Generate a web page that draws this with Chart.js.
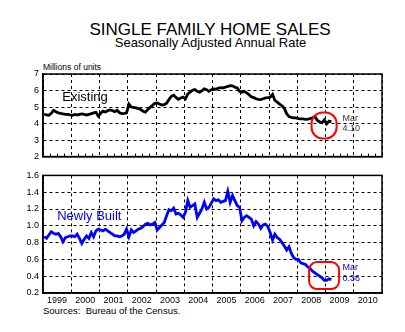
<!DOCTYPE html>
<html>
<head>
<meta charset="utf-8">
<script src="https://cdn.jsdelivr.net/npm/chart.js@4.4.1/dist/chart.umd.min.js"></script>
<style>
  body { margin: 0; background: #fff; width: 405px; height: 332px; overflow: hidden; position: relative;
         font-family: "Liberation Sans", Arial, sans-serif; }
  .txt { position: absolute; white-space: nowrap; color: #000; line-height: 1; }
  canvas { position: absolute; left: 0; }
</style>
</head>
<body>
<div class="txt" style="left:0;width:420px;text-align:center;top:21px;font-size:17px">SINGLE FAMILY HOME SALES</div>
<div class="txt" style="left:0;width:421px;text-align:center;top:36px;font-size:13px">Seasonally Adjusted Annual Rate</div>
<div class="txt" style="left:43px;top:63px;font-size:8.5px">Millions of units</div>
<div class="txt" style="left:43px;top:306px;font-size:9.5px">Sources:&nbsp; Bureau of the Census.</div>
<canvas id="existingChart" width="405" height="166" style="top:0"></canvas>
<canvas id="newChart" width="405" height="166" style="top:166px"></canvas>
<script>
// ─── DATA ────────────────────────────────────────────────────────────────────
const firstYear = 1999;
const yearLabels = [1999, 2000, 2001, 2002, 2003, 2004, 2005, 2006, 2007, 2008, 2009, 2010];

// existing single family sales, monthly Jan 1999 – Mar 2009 (millions, SAAR)
const existingSales = [
  4.58, 4.52, 4.50, 4.62, 4.80, 4.72, 4.65, 4.62, 4.58, 4.55, 4.55, 4.52,
  4.50, 4.55, 4.52, 4.55, 4.58, 4.55, 4.52, 4.55, 4.60, 4.65, 4.68, 4.45,
  4.62, 4.75, 4.70, 4.78, 4.82, 4.78, 4.72, 4.80, 4.65, 4.60, 4.62, 4.65,
  5.18, 5.00, 4.98, 4.95, 4.90, 4.85, 4.75, 4.69, 4.85, 4.98, 5.10, 5.23,
  5.25, 5.18, 5.12, 5.15, 5.23, 5.45, 5.65, 5.72, 5.58, 5.47, 5.55, 5.60,
  5.50, 5.80, 5.90, 6.02, 6.06, 5.95, 5.90, 5.98, 6.10, 6.05, 5.95, 6.05,
  6.10, 6.08, 6.15, 6.18, 6.16, 6.20, 6.25, 6.30, 6.28, 6.20, 6.15, 5.95,
  5.90, 5.95, 5.86, 5.75, 5.62, 5.57, 5.50, 5.47, 5.45, 5.50, 5.55, 5.57,
  5.60, 5.76, 5.40, 5.30, 5.18, 5.08, 4.92, 4.60, 4.42, 4.38, 4.35, 4.34,
  4.30, 4.28, 4.28, 4.25, 4.27, 4.30, 4.35, 4.42, 4.20, 4.10, 4.04, 4.22,
  3.98, 4.15, 4.10
];

// newly built single family sales, same months
const newSales = [
  0.87, 0.85, 0.89, 0.93, 0.91, 0.90, 0.91, 0.87, 0.81, 0.86, 0.87, 0.88,
  0.88, 0.87, 0.90, 0.85, 0.79, 0.84, 0.88, 0.85, 0.92, 0.87, 0.94, 0.96,
  0.95, 0.94, 0.96, 0.94, 0.92, 0.90, 0.88, 0.88, 0.87, 0.88, 0.90, 0.96,
  0.87, 0.95, 0.92, 0.94, 0.96, 0.97, 0.99, 1.02, 1.03, 1.01, 1.02, 1.04,
  0.95, 0.98, 1.01, 1.04, 1.12, 1.19, 1.18, 1.21, 1.14, 1.15, 1.13, 1.10,
  1.16, 1.30, 1.22, 1.24, 1.26, 1.10, 1.15, 1.20, 1.28, 1.20, 1.22, 1.27,
  1.32, 1.30, 1.31, 1.28, 1.29, 1.30, 1.41, 1.28, 1.36, 1.30, 1.24, 1.22,
  1.06, 1.10, 1.12, 1.10, 1.08, 1.00, 1.05, 1.02, 0.97, 1.01, 1.02, 0.99,
  0.92, 0.83, 0.90, 0.86, 0.84, 0.80, 0.76, 0.71, 0.75, 0.67, 0.62, 0.60,
  0.60, 0.56, 0.55, 0.54, 0.51, 0.49, 0.46, 0.44, 0.42, 0.40, 0.38, 0.35,
  0.35, 0.37, 0.36
];

const existingTicks = { min: 2, max: 7, step: 1 };
const newTicks = { min: 0.2, max: 1.6, step: 0.2 };

// ─── HELPERS ────────────────────────────────────────────────────────────────
const FONT = '"Liberation Sans", Arial, sans-serif';
const toPoints = arr => arr.map((v, i) => ({ x: firstYear + (i + 0.5) / 12, y: v }));

// frame, inside quarter ticks, notes and red ring
const panelDecor = {
  id: 'panelDecor',
  afterDraw(chart, args, o) {
    const { ctx, chartArea: a, scales: { x, y } } = chart;
    ctx.save();
    // quarter ticks on the bottom edge
    if (o.minorTicks) {
      ctx.strokeStyle = '#000'; ctx.lineWidth = 1;
      ctx.beginPath();
      for (let q = firstYear * 4; q <= (firstYear + 12) * 4; q++) {
        if (q % 4 === 0) continue;
        const px = Math.round(x.getPixelForValue(q / 4)) + 0.5;
        ctx.moveTo(px, a.bottom); ctx.lineTo(px, a.bottom - 3);
      }
      ctx.stroke();
    }
    ctx.lineWidth = 1.5; ctx.strokeStyle = '#000';
    ctx.strokeRect(a.left, a.top, a.right - a.left, a.bottom - a.top);

    // series name
    ctx.fillStyle = o.color;
    ctx.font = `13px ${FONT}`;
    ctx.textBaseline = 'middle';
    ctx.fillText(o.name, x.getPixelForValue(o.nameAt[0]), y.getPixelForValue(o.nameAt[1]));

    // last value note
    const pts = chart.getDatasetMeta(0).data;
    const last = pts[pts.length - 1];
    ctx.fillStyle = o.noteColor;
    ctx.font = `9px ${FONT}`;
    ctx.fillText('Mar', last.x + 11, last.y + o.noteDy[0]);
    ctx.fillText(o.lastText, last.x + 11, last.y + o.noteDy[1]);

    // red ring
    const cx = x.getPixelForValue(o.ring[0]), cy = y.getPixelForValue(o.ring[1]);
    const [w, h, r] = o.ringSize;
    ctx.strokeStyle = '#f00'; ctx.lineWidth = 2;
    ctx.beginPath();
    ctx.roundRect(cx - w / 2, cy - h / 2, w, h, r);
    ctx.stroke();
    ctx.restore();
  }
};

function makePanel(canvasId, values, color, range, opts) {
  const ctx = document.getElementById(canvasId).getContext('2d');
  return new Chart(ctx, {
    type: 'line',
    data: { datasets: [{ data: toPoints(values), borderColor: color, borderWidth: 2.8,
                         pointRadius: 0, tension: 0, fill: false }] },
    options: {
      responsive: false, animation: false, devicePixelRatio: 1,
      layout: { padding: { top: opts.top, right: 23, left: 0, bottom: 0 } },
      plugins: { legend: { display: false }, tooltip: { enabled: false }, panelDecor: opts.decor },
      scales: {
        x: {
          type: 'linear', min: firstYear, max: firstYear + 12,
          afterBuildTicks: s => { s.ticks = yearLabels.concat([firstYear + 12]).map(v => ({ value: v })); },
          afterFit: s => { s.height = opts.xHeight; },
          ticks: {
            display: opts.showYears, padding: 2, labelOffset: 14, maxRotation: 0, autoSkip: false,
            color: '#000', font: { family: FONT, size: 9 },
            callback: v => (yearLabels.includes(v) ? String(v) : '')
          },
          grid: { color: '#000', lineWidth: 1, drawTicks: false },
          border: { color: '#000', width: 1.5, dash: [3, 3] }
        },
        y: {
          min: range.min, max: range.max,
          afterFit: s => { s.width = 43; },
          ticks: { stepSize: range.step, padding: 4, color: '#000', font: { family: FONT, size: 9 },
                   callback: v => (range.step < 1 ? Number(v).toFixed(1) : String(v)) },
          grid: { color: '#000', lineWidth: 1, drawTicks: false },
          border: { color: '#000', width: 1.5, dash: [3, 3] }
        }
      }
    },
    plugins: [panelDecor]
  });
}

// ─── CHARTS ─────────────────────────────────────────────────────────────────
makePanel('existingChart', existingSales, '#000', existingTicks, {
  top: 74, xHeight: 7, showYears: false,
  decor: { minorTicks: true, name: 'Existing', nameAt: [1999.68, 5.6], color: '#000',
           noteColor: '#333', lastText: '4.10', noteDy: [-3, 7],
           ring: [2008.95, 3.88], ringSize: [25, 26, 11] }
});

makePanel('newChart', newSales, '#0000ff', newTicks, {
  top: 7, xHeight: 39, showYears: true,
  decor: { minorTicks: false, name: 'Newly Built', nameAt: [1999.5, 1.11], color: '#0000ff',
           noteColor: '#0000ff', lastText: '0.36', noteDy: [-12, -1],
           ring: [2008.95, 0.407], ringSize: [30, 27, 8] }
});
</script>
</body>
</html>
